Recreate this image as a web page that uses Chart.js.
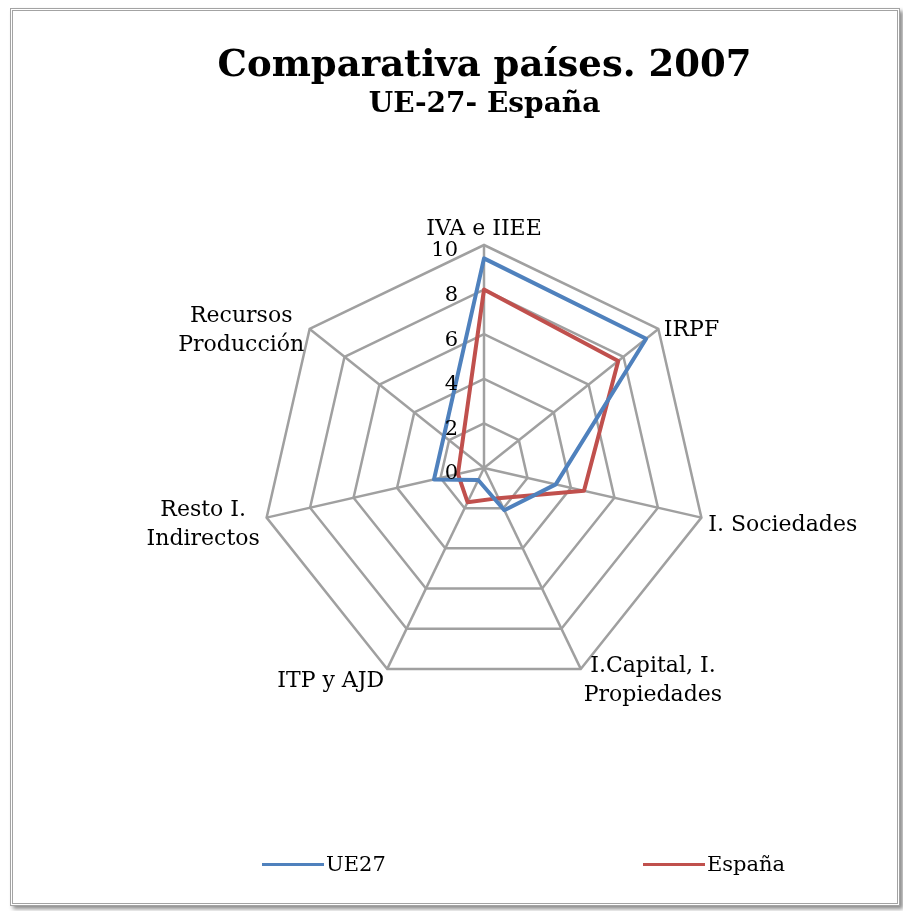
<!DOCTYPE html>
<html>
<head>
<meta charset="utf-8">
<title>Comparativa países. 2007</title>
<script src="https://cdn.jsdelivr.net/npm/chart.js@4.4.1/dist/chart.umd.min.js"></script>
<style>
  body { margin: 0; background: #fff; }
  .frame {
    position: absolute; left: 10px; top: 8px; width: 884px; height: 892px;
    border: 3px double #a3a3a3; box-shadow: 3px 3px 4px rgba(0, 0, 0, 0.45); background: #fff;
  }
  .chart { position: absolute; left: 0; top: 0; width: 903px; height: 911px; }
  .legend {
    position: absolute; left: 262px; top: 852px; display: flex;
    font-family: 'DejaVu Serif', serif; font-size: 21px; color: #000;
  }
  .legend-item { width: 381px; display: flex; align-items: center; }
  .legend-line { width: 62px; height: 3px; margin-right: 2px; }
</style>
</head>
<body>
<div class="frame"></div>
<div class="chart"><canvas id="radar" width="903" height="911"></canvas></div>
<div class="legend" id="legend"></div>
<script>
const categories = [
  ['IVA e IIEE'],
  ['IRPF'],
  ['I. Sociedades'],
  ['I.Capital, I.', 'Propiedades'],
  ['ITP y AJD'],
  ['Resto I.', 'Indirectos'],
  ['Recursos', 'Producción'],
];
const ue27Values = [9.4, 9.3, 3.3, 2.1, 0.6, 2.3, 2.3];
const espanaValues = [8.0, 7.7, 4.6, 1.5, 1.7, 1.2, 1.3];
const seriesNames = ['UE27', 'España'];
const axisMin = 0;
const axisMax = 10;
const axisStep = 2;

const BLUE = '#4F81BD';
const RED = '#C0504D';
const GRID = '#A0A0A0';
const SERIF = "'DejaVu Serif', serif";

// point labels drawn by hand so the plot radius stays fixed
const pointLabelPlugin = {
  id: 'pointLabelPlugin',
  afterDraw(chart) {
    const scale = chart.scales.r;
    const ctx = chart.ctx;
    const lineHeight = 29;
    ctx.save();
    ctx.font = `22px ${SERIF}`;
    ctx.fillStyle = '#000';
    ctx.textBaseline = 'middle';
    scale._pointLabels.forEach((label, i) => {
      const lines = Array.isArray(label) ? label : [label];
      const p = scale.getPointPosition(i, scale.drawingArea + 7);
      const blockW = Math.max(...lines.map(l => ctx.measureText(l).width));
      const blockH = lines.length * lineHeight;
      const dx = p.x - scale.xCenter;
      let left;
      if (Math.abs(dx) < 2) left = p.x - blockW / 2;
      else if (dx > 0) left = p.x;
      else left = p.x - blockW;

      let top;
      if (Math.abs(dx) < 2 && p.y < scale.yCenter) top = p.y - blockH + 6;
      else top = p.y + 6 - blockH / 2;

      ctx.textAlign = 'center';
      lines.forEach((l, k) => {
        ctx.fillText(l, left + blockW / 2, top + lineHeight * (k + 0.5));
      });
    });
    ctx.restore();
  },
};

// tick labels sit left of the vertical axis, like the original
const tickLabelPlugin = {
  id: 'tickLabelPlugin',
  afterDraw(chart) {
    const scale = chart.scales.r;
    const ctx = chart.ctx;
    ctx.save();
    ctx.font = `21px ${SERIF}`;
    ctx.fillStyle = '#000';
    ctx.textAlign = 'right';
    ctx.textBaseline = 'middle';
    scale.ticks.forEach(tick => {
      const d = scale.getDistanceFromCenterForValue(tick.value);
      ctx.fillText(tick.label, scale.xCenter - 26, scale.yCenter - d + 6);
    });
    ctx.restore();
  },
};

const chart = new Chart(document.getElementById('radar'), {
  type: 'radar',
  data: {
    labels: categories,
    datasets: [
      { label: seriesNames[0], data: ue27Values, borderColor: BLUE, backgroundColor: BLUE },
      { label: seriesNames[1], data: espanaValues, borderColor: RED, backgroundColor: RED },
    ],
  },
  options: {
    responsive: false,
    animation: false,
    layout: {
      // left/right offset moves the radar centre to x=484, height keeps radius 223
      padding: { left: 66, right: 0, top: 0, bottom: 219 },
    },
    elements: {
      line: { borderWidth: 4, fill: false, tension: 0, borderJoinStyle: 'round' },
      point: { radius: 0, hoverRadius: 0 },
    },
    plugins: {
      legend: { display: false },
      tooltip: { enabled: false },
      title: {
        display: true,
        text: 'Comparativa países. 2007',
        color: '#000',
        font: { family: SERIF, size: 37, weight: 'bold', lineHeight: 1.2 },
        padding: { top: 44, bottom: 0 },
      },
      subtitle: {
        display: true,
        text: 'UE-27- España',
        color: '#000',
        font: { family: SERIF, size: 28, weight: 'bold', lineHeight: 1.2 },
        padding: { top: 0, bottom: 123.2 },
      },
    },
    scales: {
      r: {
        min: axisMin,
        max: axisMax,
        ticks: { stepSize: axisStep, display: false },
        grid: { color: GRID, lineWidth: 2.5 },
        angleLines: { color: GRID, lineWidth: 2.5 },
        pointLabels: { display: false },
      },
    },
  },
  plugins: [pointLabelPlugin, tickLabelPlugin],
});

const legendEl = document.getElementById('legend');
chart.data.datasets.forEach(ds => {
  const item = document.createElement('div');
  item.className = 'legend-item';
  const line = document.createElement('span');
  line.className = 'legend-line';
  line.style.background = ds.borderColor;
  const text = document.createElement('span');
  text.textContent = ds.label;
  item.append(line, text);
  legendEl.appendChild(item);
});
</script>
</body>
</html>
